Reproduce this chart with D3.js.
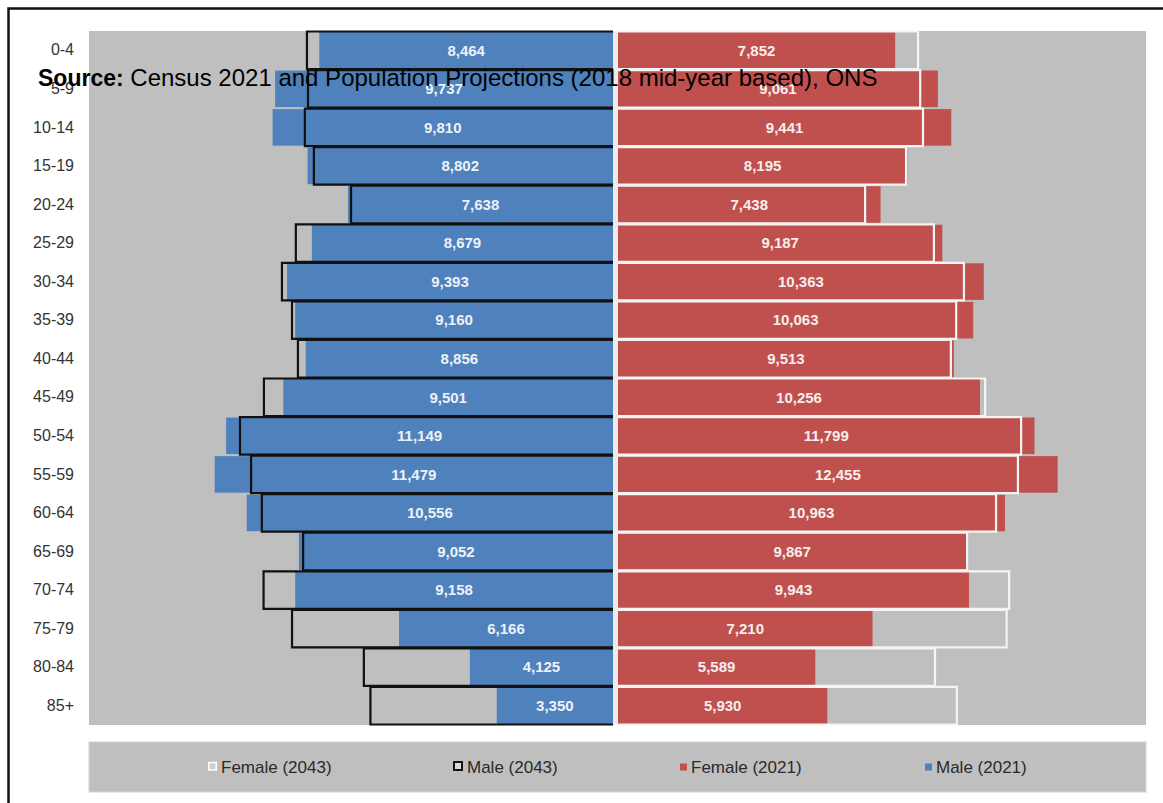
<!DOCTYPE html>
<html>
<head>
<meta charset="utf-8" />
<title>Population pyramid 2021 and 2043</title>
<script src="https://cdn.jsdelivr.net/npm/d3@7"></script>
<style>
	body, html {
		margin: 0;
		padding: 0;
		background: #ffffff;
	}
	svg {
		display: block;
		font-family: "Liberation Sans", Arial, sans-serif;
	}
</style>
</head>
<body>
<svg id="chart" width="1163" height="803"></svg>
<script>
	// age bands, youngest at the top
	var ageGroups = ["0-4", "5-9", "10-14", "15-19", "20-24", "25-29", "30-34", "35-39", "40-44",
		"45-49", "50-54", "55-59", "60-64", "65-69", "70-74", "75-79", "80-84", "85+"];

	// Census 2021 (labelled on the bars)
	var male2021 = [8464, 9737, 9810, 8802, 7638, 8679, 9393, 9160, 8856, 9501, 11149, 11479, 10556, 9052, 9158, 6166, 4125, 3350];
	var female2021 = [7852, 9061, 9441, 8195, 7438, 9187, 10363, 10063, 9513, 10256, 11799, 12455, 10963, 9867, 9943, 7210, 5589, 5930];

	// 2043 projections (outlines only)
	var male2043 = [8820, 8790, 8880, 8620, 7550, 9140, 9540, 9250, 9080, 10060, 10750, 10430, 10120, 8930, 10070, 9250, 7180, 6990];
	var female2043 = [8500, 8560, 8640, 8160, 7000, 8950, 9800, 9580, 9430, 10400, 11420, 11330, 10710, 9890, 11080, 11010, 8980, 9600];

	var legendLabels = ["Female (2043)", "Male (2043)", "Female (2021)", "Male (2021)"];

	var svg = d3.select("#chart");

	var plot = { left: 89, right: 1146, top: 31, bottom: 725 };

	var y = d3.scaleBand().domain(ageGroups).range([plot.top, plot.bottom]).paddingInner(0);
	var xMale = d3.scaleLinear().domain([0, 15000]).range([613, 92.5]);
	var xFemale = d3.scaleLinear().domain([0, 15000]).range([618, 1147.5]);
	var bw = y.bandwidth();

	var fmt = d3.format(",");

	// plot background
	svg.append("rect")
		.attr("x", plot.left)
		.attr("y", plot.top)
		.attr("width", plot.right - plot.left)
		.attr("height", plot.bottom - plot.top)
		.attr("fill", "#bfbfbf");

	// light strip between the two halves
	svg.append("rect")
		.attr("x", xMale(0))
		.attr("y", plot.top)
		.attr("width", xFemale(0) - xMale(0))
		.attr("height", plot.bottom - plot.top)
		.attr("fill", "#ececec");

	var rows = ageGroups.map(function (a, i) {
		return { age: a, m21: male2021[i], f21: female2021[i], m43: male2043[i], f43: female2043[i] };
	});

	// 2021 bars
	svg.append("g").selectAll("rect")
		.data(rows)
		.enter().append("rect")
		.attr("x", function (d) { return xMale(d.m21); })
		.attr("y", function (d) { return y(d.age) + 1; })
		.attr("width", function (d) { return xMale(0) - xMale(d.m21); })
		.attr("height", bw - 2)
		.attr("fill", "#4f81bd");

	svg.append("g").selectAll("rect")
		.data(rows)
		.enter().append("rect")
		.attr("x", xFemale(0))
		.attr("y", function (d) { return y(d.age) + 1; })
		.attr("width", function (d) { return xFemale(d.f21) - xFemale(0); })
		.attr("height", bw - 2)
		.attr("fill", "#c0504d");

	// 2043 outlines, open on the centre side
	svg.append("g").selectAll("path")
		.data(rows)
		.enter().append("path")
		.attr("d", function (d) {
			var t = y(d.age) + 0.5, b = y(d.age) + bw - 0.5;
			return "M" + xMale(0) + "," + t + "H" + xMale(d.m43) + "V" + b + "H" + xMale(0);
		})
		.attr("fill", "none")
		.attr("stroke", "#111111")
		.attr("stroke-width", 2.2);

	svg.append("g").selectAll("path")
		.data(rows)
		.enter().append("path")
		.attr("d", function (d) {
			var t = y(d.age) + 0.5, b = y(d.age) + bw - 0.5;
			return "M" + xFemale(0) + "," + t + "H" + xFemale(d.f43) + "V" + b + "H" + xFemale(0);
		})
		.attr("fill", "none")
		.attr("stroke", "#f4f4f4")
		.attr("stroke-width", 2.2);

	// value labels
	svg.append("g").selectAll("text")
		.data(rows)
		.enter().append("text")
		.attr("x", function (d) { return (xMale(d.m21) + xMale(0)) / 2; })
		.attr("y", function (d) { return y(d.age) + bw / 2; })
		.attr("dy", "0.35em")
		.attr("text-anchor", "middle")
		.attr("font-size", 15)
		.attr("font-weight", "bold")
		.attr("fill", "#eef2f8")
		.text(function (d) { return fmt(d.m21); });

	svg.append("g").selectAll("text")
		.data(rows)
		.enter().append("text")
		.attr("x", function (d) { return (xFemale(d.f21) + xFemale(0)) / 2; })
		.attr("y", function (d) { return y(d.age) + bw / 2; })
		.attr("dy", "0.35em")
		.attr("text-anchor", "middle")
		.attr("font-size", 15)
		.attr("font-weight", "bold")
		.attr("fill", "#f8eeee")
		.text(function (d) { return fmt(d.f21); });

	// age axis
	var yAxis = svg.append("g")
		.attr("transform", "translate(76,0)")
		.call(d3.axisLeft(y).tickSize(0).tickPadding(2));
	yAxis.select(".domain").remove();
	yAxis.selectAll("text")
		.attr("font-family", "Liberation Sans, Arial, sans-serif")
		.attr("font-size", 16)
		.attr("fill", "#333333");

	// legend
	var legend = { left: 89, right: 1146, top: 742, bottom: 792 };
	svg.append("rect")
		.attr("x", legend.left)
		.attr("y", legend.top)
		.attr("width", legend.right - legend.left)
		.attr("height", legend.bottom - legend.top)
		.attr("fill", "#bfbfbf")
		.attr("stroke", "#d4d4d4")
		.attr("stroke-width", 1);

	var legendX = [208, 453, 680, 925];
	var legendMarks = [
		{ size: 9, fill: "#cfcfcf", stroke: "#ffffff", sw: 1.5 },
		{ size: 10, fill: "#d8d8d8", stroke: "#111111", sw: 2 },
		{ size: 7, fill: "#c0504d", stroke: "none", sw: 0 },
		{ size: 7, fill: "#4f81bd", stroke: "none", sw: 0 }
	];
	var legendY = 767;

	var items = svg.append("g").selectAll("g")
		.data(legendLabels)
		.enter().append("g")
		.attr("transform", function (d, i) { return "translate(" + legendX[i] + "," + legendY + ")"; });

	items.append("rect")
		.attr("x", function (d, i) { return legendMarks[i].sw / 2; })
		.attr("y", function (d, i) { return -legendMarks[i].size / 2; })
		.attr("width", function (d, i) { return legendMarks[i].size - legendMarks[i].sw; })
		.attr("height", function (d, i) { return legendMarks[i].size - legendMarks[i].sw; })
		.attr("fill", function (d, i) { return legendMarks[i].fill; })
		.attr("stroke", function (d, i) { return legendMarks[i].stroke; })
		.attr("stroke-width", function (d, i) { return legendMarks[i].sw; });

	items.append("text")
		.attr("x", function (d, i) { return legendMarks[i].size + 4; })
		.attr("dy", "0.35em")
		.attr("font-size", 17)
		.attr("fill", "#2a2a2a")
		.text(function (d) { return d; });

	// outer frame
	svg.append("rect")
		.attr("x", 8.5)
		.attr("y", 8.5)
		.attr("width", 1170)
		.attr("height", 810)
		.attr("fill", "none")
		.attr("stroke", "#111111")
		.attr("stroke-width", 2.5);

	// source note laid over the chart
	var source = svg.append("text")
		.attr("x", 38)
		.attr("y", 86)
		.attr("fill", "#000000");
	source.append("tspan").attr("font-weight", "bold").attr("font-size", 23).text("Source:");
	source.append("tspan").attr("font-size", 24).text(" Census 2021 and Population Projections (2018 mid-year based), ONS");
</script>
</body>
</html>
